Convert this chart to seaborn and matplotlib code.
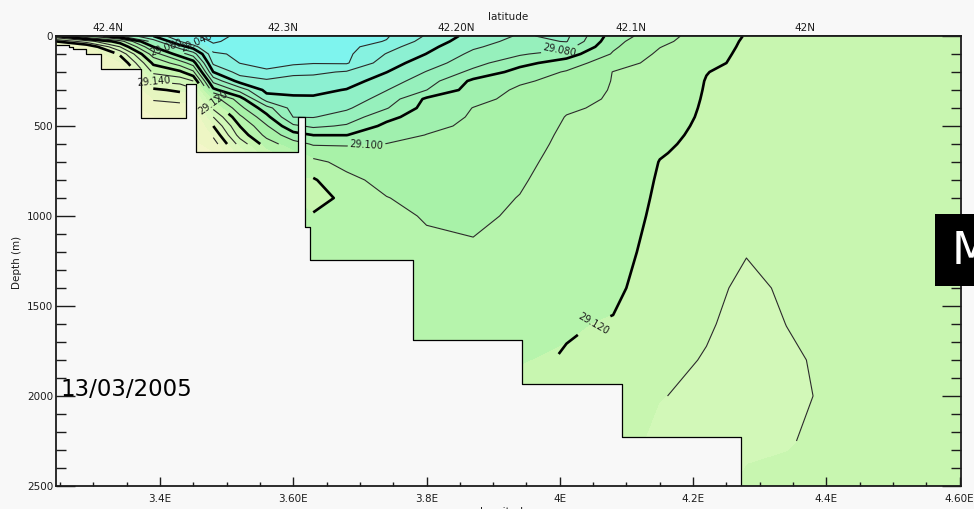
import numpy as np
import matplotlib
matplotlib.use("Agg")
import matplotlib.pyplot as plt
from matplotlib.colors import ListedColormap, BoundaryNorm
from matplotlib.patches import Rectangle
from matplotlib.ticker import MultipleLocator
import seaborn as sns

sns.set_theme(style="white")
plt.rcParams["font.family"] = ["DejaVu Sans"]

# ---- density section (sigma) along the transect --------------------------
# station longitudes (deg E)
lon = [3.244, 3.29, 3.34, 3.39, 3.43, 3.45, 3.48, 3.52, 3.56, 3.60, 3.63, 3.68,
       3.74, 3.80, 3.87, 3.94, 4.01, 4.08, 4.15, 4.22, 4.28, 4.34, 4.42, 4.60]
# depth levels (m)
depth = [0, 30, 60, 100, 150, 200, 250, 300, 350, 400, 450, 500, 550, 600, 650,
         700, 800, 900, 1000, 1200, 1400, 1600, 1800, 2000, 2250, 2500]

# one profile per station, values at each depth level
sigma_profiles = [
    [29.120, 29.150, 29.170] + [29.175] * 23,
    [29.100, 29.135, 29.160, 29.170] + [29.175] * 22,
    [29.080, 29.115, 29.130, 29.148, 29.160, 29.168, 29.172] + [29.175] * 19,
    [29.060, 29.075, 29.090, 29.105, 29.118, 29.128, 29.139, 29.152, 29.159, 29.165,
     29.170] + [29.175] * 15,
    [29.040, 29.050, 29.065, 29.085, 29.105, 29.122, 29.136, 29.148, 29.157, 29.164,
     29.170] + [29.175] * 15,
    [29.032, 29.040, 29.055, 29.075, 29.095, 29.112, 29.130, 29.145, 29.155, 29.162,
     29.168] + [29.172] * 15,
    [29.025, 29.028, 29.034, 29.042, 29.048, 29.060, 29.077, 29.093, 29.115, 29.128,
     29.140, 29.150, 29.158, 29.165, 29.170, 29.172] + [29.172] * 10,
    [29.033, 29.035, 29.036, 29.038, 29.0398, 29.046, 29.056, 29.076, 29.095, 29.103,
     29.112, 29.1198, 29.126, 29.136, 29.145, 29.150] + [29.155] * 10,
    [29.033, 29.034, 29.035, 29.036, 29.038, 29.041, 29.052, 29.057, 29.065, 29.084,
     29.093, 29.101, 29.107, 29.115, 29.123, 29.1298] + [29.135] * 10,
    [29.033, 29.034, 29.035, 29.036, 29.038, 29.048, 29.053, 29.057, 29.062, 29.066,
     29.0698, 29.082, 29.094, 29.104, 29.112, 29.118] + [29.1198] * 10,
    [29.034, 29.035, 29.036, 29.037, 29.0395, 29.048, 29.054, 29.0575, 29.0615, 29.0655,
     29.0695, 29.078, 29.0898, 29.099, 29.106, 29.1125, 29.121, 29.124, 29.119, 29.116,
     29.117, 29.118, 29.119, 29.1195, 29.1195, 29.1195],
    [29.035, 29.036, 29.037, 29.038, 29.039, 29.051, 29.0556, 29.0605, 29.0645, 29.0685,
     29.0745, 29.0812, 29.0898, 29.099, 29.1035, 29.107, 29.1125, 29.1175, 29.117, 29.117,
     29.118, 29.1185, 29.119, 29.1195, 29.1195, 29.1195],
    [29.039, 29.0405, 29.046, 29.0505, 29.0555, 29.0598, 29.065, 29.0697, 29.074, 29.0793,
     29.087, 29.0925, 29.0962, 29.1002, 29.1021, 29.104, 29.107, 29.1103, 29.113, 29.1155,
     29.117, 29.118, 29.119, 29.1195, 29.1195, 29.1195],
    [29.051, 29.054, 29.057, 29.0602, 29.065, 29.0705, 29.0753, 29.0799, 29.0918, 29.0935,
     29.0956, 29.0979, 29.1002, 29.1013, 29.1023, 29.1033, 29.1053, 29.1072, 29.1091, 29.1126,
     29.1145, 29.116, 29.117, 29.118, 29.119, 29.1195],
    [29.064, 29.066, 29.0685, 29.0724, 29.0764, 29.0826, 29.0921, 29.0945, 29.0976, 29.1002,
     29.1009, 29.1016, 29.1023, 29.103, 29.1036, 29.1043, 29.1057, 29.107, 29.1083, 29.1112,
     29.114, 29.1165, 29.118, 29.119, 29.1195, 29.1195],
    [29.071, 29.073, 29.0755, 29.0787, 29.087, 29.0936, 29.0986, 29.1016, 29.1024, 29.1032,
     29.1039, 29.1046, 29.1053, 29.106, 29.1067, 29.1075, 29.1089, 29.1103, 29.1113, 29.1135,
     29.1155, 29.1175, 29.1198, 29.121, 29.122, 29.123],
    [29.068, 29.0695, 29.0761, 29.0853, 29.0946, 29.1009, 29.1029, 29.1049, 29.107, 29.109,
     29.1103, 29.111, 29.1117, 29.1123, 29.113, 29.1136, 29.1148, 29.1155, 29.1162, 29.1175,
     29.1187, 29.1194, 29.1205, 29.122, 29.1235, 29.125],
    [29.095, 29.0973, 29.0986, 29.1009, 29.1065, 29.1102, 29.1104, 29.1107, 29.111, 29.1114,
     29.1118, 29.1122, 29.1125, 29.1129, 29.1132, 29.1136, 29.1143, 29.115, 29.1157, 29.1171,
     29.1185, 29.1205, 29.1218, 29.1232, 29.1245, 29.125],
    [29.106, 29.1076, 29.1097, 29.1117, 29.1125, 29.1132, 29.1139, 29.1146, 29.1153, 29.116,
     29.1167, 29.1174, 29.1181, 29.1188, 29.1195, 29.1202, 29.1208, 29.1213, 29.1218, 29.1228,
     29.1238, 29.1248, 29.1265, 29.1295, 29.1325, 29.133],
    [29.115, 29.1156, 29.1162, 29.117, 29.118, 29.1198, 29.1203, 29.1205, 29.1207, 29.1209,
     29.1211, 29.1214, 29.1217, 29.122, 29.1223, 29.1226, 29.1232, 29.1238, 29.1244, 29.1256,
     29.1268, 29.1287, 29.1308, 29.1325, 29.134, 29.134],
    [29.1205, 29.121, 29.1213, 29.1217, 29.122, 29.1224, 29.1227, 29.123, 29.1233, 29.1237,
     29.124, 29.1243, 29.1247, 29.125, 29.1253, 29.1256, 29.1262, 29.1269, 29.1275, 29.1295,
     29.1325, 29.134, 29.1345, 29.134, 29.132, 29.128],
    [29.122, 29.1222, 29.1223, 29.1225, 29.1228, 29.123, 29.1233, 29.1235, 29.1238, 29.124,
     29.1243, 29.1245, 29.1248, 29.125, 29.1253, 29.1255, 29.126, 29.1265, 29.127, 29.1277,
     29.1285, 29.1299, 29.1315, 29.1325, 29.1307, 29.1275],
    [29.1225, 29.1226, 29.1227, 29.1228, 29.1229, 29.123, 29.1232, 29.1233, 29.1235, 29.1237,
     29.1238, 29.124, 29.1242, 29.1244, 29.1245, 29.1247, 29.125, 29.1253, 29.1256, 29.1262,
     29.1268, 29.127, 29.1275, 29.1275, 29.127, 29.1265],
    [29.123, 29.123, 29.123, 29.123, 29.1232, 29.1234, 29.1236, 29.1238, 29.124, 29.1242,
     29.1244, 29.1246, 29.1248, 29.125, 29.1252, 29.1254, 29.1256, 29.1258, 29.126, 29.1262,
     29.1264, 29.1266, 29.1268, 29.127, 29.127, 29.127],
]

# sea floor along the transect: step edges (deg E) and floor depth (m)
bathy_edges = [3.2440, 3.2635, 3.2695, 3.2890, 3.3115, 3.3715, 3.4390, 3.4540,
               3.6071, 3.6176, 3.6251, 3.7796, 3.9431, 4.0932, 4.2717, 4.6018]
bathy_floor = [50, 61, 72, 100, 183, 455, 267, 644, 450, 1061, 1244, 1689, 1933, 2228, 2500]

# latitude of the transect, read against longitude, for the top axis
lat_ticks = [42.4, 42.3, 42.2, 42.1, 42.0]
lat_tick_lon = [3.322, 3.5845, 3.8456, 4.1052, 4.3677]
lat_labels = ["42.4N", "42.3N", "42.20N", "42.1N", "42N"]

lon_ticks = [3.4, 3.6, 3.8, 4.0, 4.2, 4.4, 4.6]
lon_labels = ["3.4E", "3.60E", "3.8E", "4E", "4.2E", "4.4E", "4.60E"]
depth_ticks = [0, 500, 1000, 1500, 2000, 2500]

# contour intervals and band colours
levels = [29.02, 29.03, 29.04, 29.05, 29.06, 29.07, 29.08, 29.09, 29.10,
          29.11, 29.12, 29.13, 29.14, 29.15, 29.16, 29.17, 29.18]
band_colors = ["#74f4f4", "#7ef4ee", "#86f2e0", "#8cf0d2", "#90f0c6", "#96f0bc",
               "#9af0b4", "#a0f0ae", "#a8f2a8", "#b6f4ac", "#c8f6b0", "#d2f8b8",
               "#dcf7bc", "#e6f6c0", "#eef6c4", "#f4f6ca"]
thin_plain = [29.03, 29.05, 29.07, 29.11, 29.13, 29.16, 29.17]
thin_labelled = [29.04, 29.08, 29.10, 29.14]
thick_plain = [29.06, 29.09, 29.15]
thick_labelled = [29.12]

bg = "#f8f8f8"
ink = "#1c1c1c"

# ---- grid -----------------------------------------------------------------
LON, DEP = np.meshgrid(lon, depth)
SIG = np.array(sigma_profiles).T
floor_at = np.array(bathy_floor)[np.searchsorted(bathy_edges, lon, side="right") - 1]
wet = DEP < floor_at[None, :]
SIG_wet = np.ma.masked_where(~wet, SIG)

# ---- figure ---------------------------------------------------------------
fig = plt.figure(figsize=(9.74, 5.09), dpi=100, facecolor=bg)
ax = fig.add_axes([56 / 974, 23 / 509, 905 / 974, 450 / 509])
ax.set_facecolor(bg)
ax.set_axisbelow(False)

cmap = ListedColormap(band_colors)
norm = BoundaryNorm(levels, cmap.N)
ax.contourf(LON, DEP, SIG, levels=levels, cmap=cmap, norm=norm, zorder=0.5)

thin_kw = dict(colors="#2a2a2a", linewidths=0.8, zorder=1.5)
thick_kw = dict(colors="black", linewidths=1.9, zorder=1.6)
ax.contour(LON, DEP, SIG_wet, levels=thin_plain, **thin_kw)
cs_thin = ax.contour(LON, DEP, SIG_wet, levels=thin_labelled, **thin_kw)
ax.contour(LON, DEP, SIG_wet, levels=thick_plain, **thick_kw)
cs_thick = ax.contour(LON, DEP, SIG_wet, levels=thick_labelled, **thick_kw)

# sea floor
floor_ext = bathy_floor + [bathy_floor[-1]]
ax.fill_between(bathy_edges, floor_ext, 2700, step="post", facecolor=bg,
                edgecolor="none", zorder=2)
ax.step(bathy_edges, floor_ext, where="post", color="black", lw=0.9, zorder=2.2)

# contour labels
ax.clabel(cs_thin,
          manual=[(3.455, 30), (3.41, 60), (4.0, 80), (3.71, 605), (3.39, 255)],
          fmt="%.3f", fontsize=7, inline=True, inline_spacing=2, colors=ink)
ax.clabel(cs_thick, manual=[(4.05, 1600), (3.48, 370)],
          fmt="%.3f", fontsize=7, inline=True, inline_spacing=2, colors=ink)

# axes
ax.set_xlim(3.244, 4.602)
ax.set_ylim(2500, 0)
ax.set_xticks(lon_ticks)
ax.set_xticklabels(lon_labels)
ax.xaxis.set_minor_locator(MultipleLocator(0.05))
ax.set_yticks(depth_ticks)
ax.set_yticklabels([str(d) for d in depth_ticks])
ax.yaxis.set_minor_locator(MultipleLocator(100))

ax.tick_params(axis="x", which="major", direction="in", length=6.5, width=1.0,
               bottom=True, top=False, labelsize=7.5, pad=6, colors=ink)
ax.tick_params(axis="x", which="minor", direction="in", length=2.6, width=1.0,
               bottom=True, top=False, colors=ink)
ax.tick_params(axis="y", which="major", direction="in", length=13.5, width=1.0,
               left=True, right=True, labelsize=7.5, pad=2, colors=ink)
ax.tick_params(axis="y", which="minor", direction="in", length=7.5, width=1.0,
               left=True, right=True, colors=ink)
for sp in ax.spines.values():
    sp.set_color(ink)
    sp.set_linewidth(1.3)
    sp.set_visible(True)
    sp.set_zorder(3)
ax.grid(False)

slope, intercept = np.polyfit(lat_ticks, lat_tick_lon, 1)


def lat_to_lon(lat):
    return intercept + slope * np.asarray(lat, dtype=float)


def lon_to_lat(x):
    return (np.asarray(x, dtype=float) - intercept) / slope


secax = ax.secondary_xaxis("top", functions=(lon_to_lat, lat_to_lon))
secax.set_xticks(lat_ticks)
secax.set_xticklabels(lat_labels)
secax.xaxis.set_minor_locator(MultipleLocator(0.01))
secax.tick_params(which="major", direction="in", length=6.5, width=1.0,
                  labelsize=7.5, pad=2.5, colors=ink)
secax.tick_params(which="minor", direction="in", length=3.6, width=1.0, colors=ink)
secax.spines["top"].set_linewidth(1.3)
secax.spines["top"].set_color(ink)

# annotations
fig.text(508 / 974, 1 - 17 / 509, "latitude", ha="center", va="center",
         fontsize=7.5, color=ink)
fig.text(17 / 974, 1 - 262 / 509, "Depth (m)", rotation=90, ha="center",
         va="center", fontsize=7.5, color=ink)
fig.text(505 / 974, -3 / 509, "longitude", ha="center", va="center",
         fontsize=7.5, color=ink)
fig.text(60 / 974, 1 - 389 / 509, "13/03/2005", ha="left", va="center",
         fontsize=16.5, color="black", zorder=5)

fig.add_artist(Rectangle((935 / 974, 1 - 286 / 509), 50 / 974, 72 / 509,
                         transform=fig.transFigure, facecolor="black",
                         edgecolor="none", zorder=10))
fig.text(952 / 974, 1 - 251 / 509, "M", ha="left", va="center", fontsize=32,
         color="white", zorder=11)

fig.savefig("out.png", dpi=100, facecolor=bg)
